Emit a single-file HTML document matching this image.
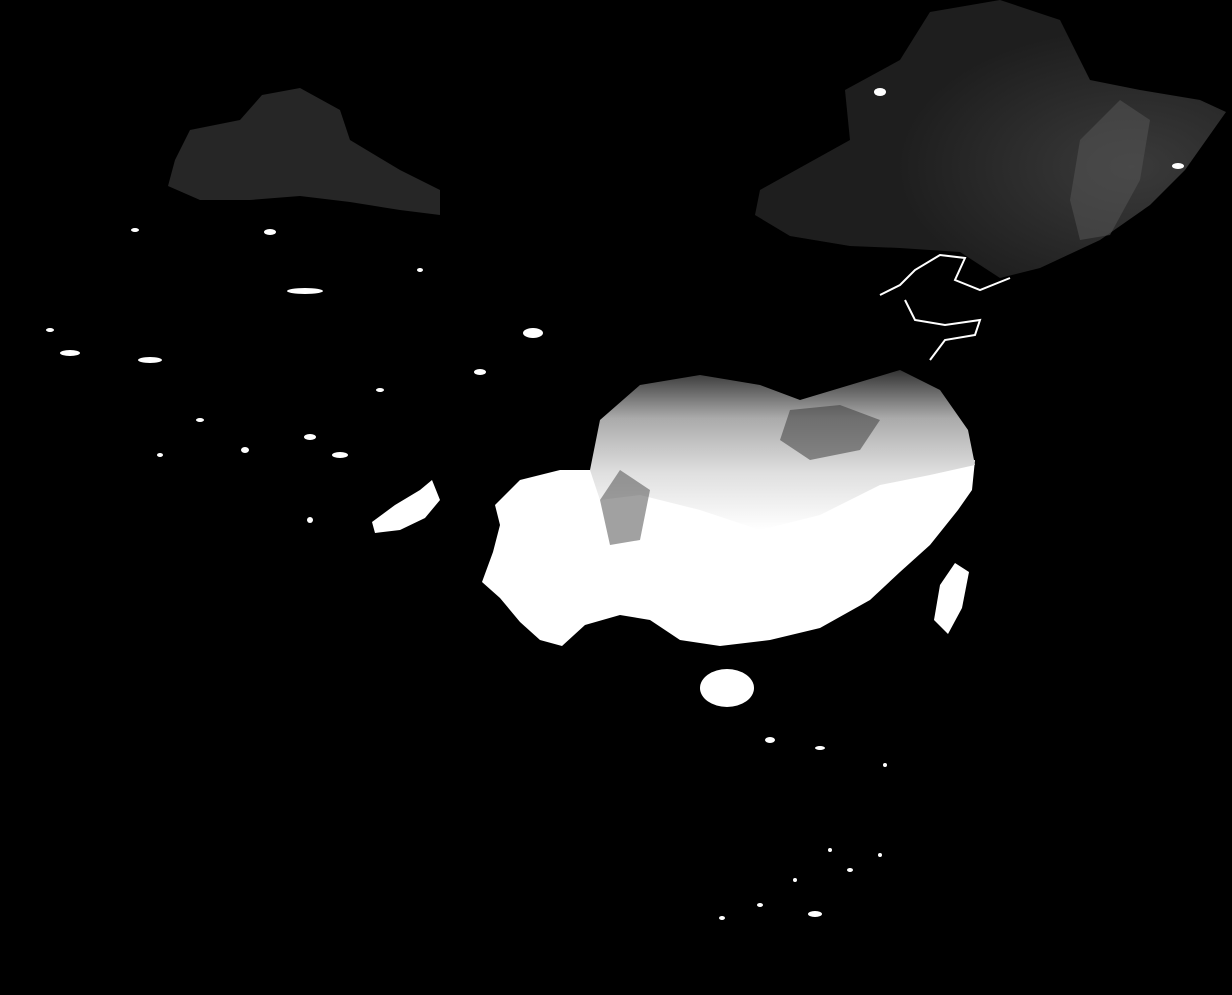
<!DOCTYPE html>
<html><head><meta charset="utf-8"><style>
html,body{margin:0;padding:0;background:#000;width:1232px;height:995px;overflow:hidden}
svg{display:block}
</style></head><body>
<svg width="1232" height="995" viewBox="0 0 1232 995" xmlns="http://www.w3.org/2000/svg">
<defs>
<linearGradient id="sg" x1="0" y1="0" x2="0" y2="1">
<stop offset="0" stop-color="#333"/><stop offset="0.3" stop-color="#aaa"/><stop offset="0.65" stop-color="#e0e0e0"/><stop offset="1" stop-color="#fff"/>
</linearGradient>
<radialGradient id="ne" cx="0.8" cy="0.6" r="0.5"><stop offset="0" stop-color="#3a3a3a"/><stop offset="1" stop-color="#1e1e1e"/></radialGradient>
</defs>
<rect width="1232" height="995" fill="#000"/>
<path fill="url(#ne)" d="M760,190 L850,140 L845,90 L900,60 L930,12 L1000,0 L1060,20 L1090,80 L1140,90 L1200,100 L1226,112 L1185,170 L1150,205 L1100,240 L1040,268 L1000,278 L960,252 L900,248 L850,246 L790,236 L755,215 Z"/>
<path fill="#555" opacity="0.55" d="M1080,140 L1120,100 L1150,120 L1140,180 L1110,235 L1080,240 L1070,200 Z"/>
<path fill="#262626" d="M175,160 L190,130 L240,120 L262,95 L300,88 L340,110 L350,140 L400,170 L440,190 L440,215 L400,210 L350,202 L300,196 L250,200 L200,200 L168,186 Z"/>
<path fill="#fff" d="M495,505 L520,480 L560,470 L600,470 L640,480 L700,500 L760,520 L820,510 L880,480 L930,470 L975,460 L972,490 L958,510 L930,545 L900,572 L870,600 L820,628 L770,640 L720,646 L680,640 L650,620 L620,615 L585,625 L562,646 L540,640 L520,622 L500,598 L482,582 L493,552 L500,525 Z"/>
<path fill="url(#sg)" d="M590,470 L600,420 L640,385 L700,375 L760,385 L800,400 L850,385 L900,370 L940,390 L968,430 L975,465 L930,475 L880,485 L820,515 L760,530 L700,510 L640,495 L600,500 Z"/>
<path fill="#444" opacity="0.5" d="M600,500 L620,470 L650,490 L640,540 L610,545 Z"/>
<path fill="#333" opacity="0.5" d="M790,410 L840,405 L880,420 L860,450 L810,460 L780,440 Z"/>
<ellipse cx="727" cy="688" rx="27" ry="19" fill="#fff"/>
<path fill="#fff" d="M955,563 L969,572 L962,608 L948,634 L934,620 L940,585 Z"/>
<path fill="#fff" d="M372,522 L395,505 L420,490 L432,480 L440,500 L425,518 L400,530 L375,533 Z"/>
<path fill="none" stroke="#fff" stroke-width="2" d="M880,295 L900,285 L915,270 L940,255 L965,258 L955,280 L980,290 L1010,278 M905,300 L915,320 L945,325 L980,320 L975,335 L945,340 L930,360"/>
<g fill="#fff">
<ellipse cx="533" cy="333" rx="10" ry="5"/><ellipse cx="305" cy="291" rx="18" ry="3"/>
<ellipse cx="70" cy="353" rx="10" ry="3"/><ellipse cx="150" cy="360" rx="12" ry="3"/>
<ellipse cx="310" cy="437" rx="6" ry="3"/><ellipse cx="245" cy="450" rx="4" ry="3"/>
<ellipse cx="340" cy="455" rx="8" ry="3"/><ellipse cx="480" cy="372" rx="6" ry="3"/>
<ellipse cx="200" cy="420" rx="4" ry="2"/><ellipse cx="270" cy="232" rx="6" ry="3"/>
<ellipse cx="135" cy="230" rx="4" ry="2"/><ellipse cx="420" cy="270" rx="3" ry="2"/>
<ellipse cx="880" cy="92" rx="6" ry="4"/><ellipse cx="1178" cy="166" rx="6" ry="3"/>
<ellipse cx="310" cy="520" rx="3" ry="3"/><ellipse cx="160" cy="455" rx="3" ry="2"/>
<ellipse cx="50" cy="330" rx="4" ry="2"/><ellipse cx="380" cy="390" rx="4" ry="2"/>
<ellipse cx="770" cy="740" rx="5" ry="3"/><ellipse cx="820" cy="748" rx="5" ry="2"/>
<ellipse cx="815" cy="914" rx="7" ry="3"/><ellipse cx="760" cy="905" rx="3" ry="2"/>
<ellipse cx="850" cy="870" rx="3" ry="2"/><ellipse cx="830" cy="850" rx="2" ry="2"/>
<ellipse cx="722" cy="918" rx="3" ry="2"/><ellipse cx="880" cy="855" rx="2" ry="2"/>
<ellipse cx="885" cy="765" rx="2" ry="2"/><ellipse cx="795" cy="880" rx="2" ry="2"/>
</g>
</svg>
</body></html>
